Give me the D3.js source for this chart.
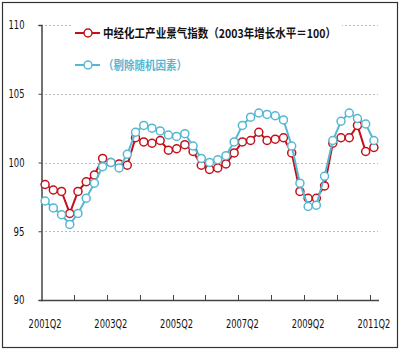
<!DOCTYPE html>
<html>
<head>
<meta charset="utf-8">
<script src="https://cdn.jsdelivr.net/npm/d3@7"></script>
<style>
  body { margin: 0; background: #fff; }
  svg { display: block; }
</style>
</head>
<body>
<div id="container"></div>
<script>
// Chart size
const width = 400, height = 351;

// Quarter categories 2001Q2 .. 2011Q2
const quarters = [];
for (let y = 2001; y <= 2011; y++) {
    ["Q1", "Q2", "Q3", "Q4"].forEach(q => quarters.push(y + q));
}
const categories = quarters.slice(quarters.indexOf("2001Q2"), quarters.indexOf("2011Q2") + 1);

// Tick labels shown on the x axis
const xTickLabels = ["2001Q2", "2003Q2", "2005Q2", "2007Q2", "2009Q2", "2011Q2"];
const yTicks = [90, 95, 100, 105, 110];

// Series names
const seriesNames = ["中经化工产业景气指数（2003年增长水平＝100）", "（剔除随机因素）"];

// Index values
const indexValues = [
    98.4, 98.0, 97.9, 96.3, 97.9, 98.6, 99.1, 100.3, 100.0, 99.9,
    99.8, 101.8, 101.5, 101.4, 101.6, 100.9, 101.0, 101.3, 100.8, 99.8,
    99.5, 99.6, 99.9, 100.7, 101.5, 101.6, 102.2, 101.6, 101.7, 101.8,
    100.7, 97.9, 97.4, 97.4, 98.3, 101.4, 101.8, 101.8, 102.7, 100.8,
    101.1
];
const adjustedValues = [
    97.2, 96.7, 96.2, 95.5, 96.3, 97.4, 98.5, 99.7, 100.0, 99.6,
    100.6, 102.2, 102.7, 102.5, 102.3, 102.0, 101.9, 102.1, 101.2, 100.3,
    100.0, 100.2, 100.5, 101.5, 102.7, 103.3, 103.6, 103.5, 103.4, 103.1,
    101.2, 98.5, 96.8, 96.9, 99.0, 101.6, 103.0, 103.6, 103.2, 102.8,
    101.6
];

const colors = ["#c4101a", "#55b8d3"];
const labelFont = "'DejaVu Sans Condensed', 'DejaVu Sans', sans-serif";

const svg = d3.select("#container")
    .append("svg")
    .attr("width", width)
    .attr("height", height);

// Outer frame
svg.append("rect")
    .attr("x", 2.5).attr("y", 2.5)
    .attr("width", 395).attr("height", 345)
    .attr("fill", "#fff")
    .attr("stroke", "#333")
    .attr("stroke-width", 1.2);

// Scales
const x = d3.scaleBand()
    .domain(categories)
    .range([41, 378]);

const y = d3.scaleLinear()
    .domain([90, 110])
    .range([300, 25]);

const cx = d => x(d) + x.bandwidth() / 2;

// Dotted gridlines
svg.append("g")
    .selectAll("line")
    .data(yTicks.filter(d => d > 90))
    .enter()
    .append("line")
    .attr("x1", 41).attr("x2", 378)
    .attr("y1", d => Math.round(y(d)) + 0.5)
    .attr("y2", d => Math.round(y(d)) + 0.5)
    .attr("stroke", "#bbb")
    .attr("stroke-dasharray", "2,2");

// Y axis
const yAxis = svg.append("g")
    .attr("transform", "translate(41.5,0)")
    .call(d3.axisLeft(y).tickValues(yTicks).tickSize(3).tickPadding(14));
yAxis.select(".domain").attr("stroke", "#444").attr("stroke-width", 1.5);
yAxis.selectAll(".tick line").attr("stroke", "#444");
yAxis.selectAll("text")
    .attr("font-family", labelFont)
    .attr("font-size", 12)
    .attr("fill", "#111")
    .attr("textLength", d => d >= 100 ? 16 : 11)
    .attr("lengthAdjust", "spacingAndGlyphs");

// X axis: tick marks every 4 quarters on category boundaries
const xAxisG = svg.append("g");
xAxisG.append("line")
    .attr("x1", 41).attr("x2", 379)
    .attr("y1", 300.5).attr("y2", 300.5)
    .attr("stroke", "#444")
    .attr("stroke-width", 1.5);
xAxisG.selectAll("line.tick")
    .data(categories.filter((d, i) => i > 0 && i % 4 === 0))
    .enter()
    .append("line")
    .attr("class", "tick")
    .attr("x1", d => Math.round(x(d)) + 0.5)
    .attr("x2", d => Math.round(x(d)) + 0.5)
    .attr("y1", 295).attr("y2", 300)
    .attr("stroke", "#444");
xAxisG.selectAll("text")
    .data(xTickLabels)
    .enter()
    .append("text")
    .attr("x", d => cx(d) - 16.5)
    .attr("y", 328)
    .attr("font-family", labelFont)
    .attr("font-size", 12)
    .attr("fill", "#111")
    .attr("textLength", 33)
    .attr("lengthAdjust", "spacingAndGlyphs")
    .text(d => d);

// Lines with open circle markers
const line = d3.line()
    .x((d, i) => cx(categories[i]))
    .y(d => y(d));

[indexValues, adjustedValues].forEach((vals, s) => {
    const g = svg.append("g");
    g.append("path")
        .datum(vals)
        .attr("d", line)
        .attr("fill", "none")
        .attr("stroke", colors[s])
        .attr("stroke-width", 2);
    g.selectAll("circle")
        .data(vals)
        .enter()
        .append("circle")
        .attr("cx", (d, i) => cx(categories[i]))
        .attr("cy", d => y(d))
        .attr("r", 4)
        .attr("fill", "#fff")
        .attr("stroke", colors[s])
        .attr("stroke-width", 1.5);
});

// Legend
const legend = svg.append("g");
const legendY = [33, 65];
seriesNames.forEach((name, s) => {
    legend.append("rect")
        .attr("x", 72).attr("y", legendY[s] - 10)
        .attr("width", 270).attr("height", 20)
        .attr("fill", "#fff");
    legend.append("line")
        .attr("x1", 75).attr("x2", 100)
        .attr("y1", legendY[s]).attr("y2", legendY[s])
        .attr("stroke", colors[s])
        .attr("stroke-width", 2);
    legend.append("circle")
        .attr("cx", 88).attr("cy", legendY[s])
        .attr("r", 4)
        .attr("fill", "#fff")
        .attr("stroke", colors[s])
        .attr("stroke-width", 1.5);
    legend.append("text")
        .attr("x", 103)
        .attr("y", legendY[s] + 4.5)
        .attr("font-family", "'Noto Sans CJK SC', sans-serif")
        .attr("font-size", 12)
        .attr("font-weight", "bold")
        .attr("fill", s === 0 ? "#111" : colors[1])
        .attr("textLength", s === 0 ? 233 : 84)
        .attr("lengthAdjust", "spacingAndGlyphs")
        .text(name);
});
</script>
</body>
</html>
